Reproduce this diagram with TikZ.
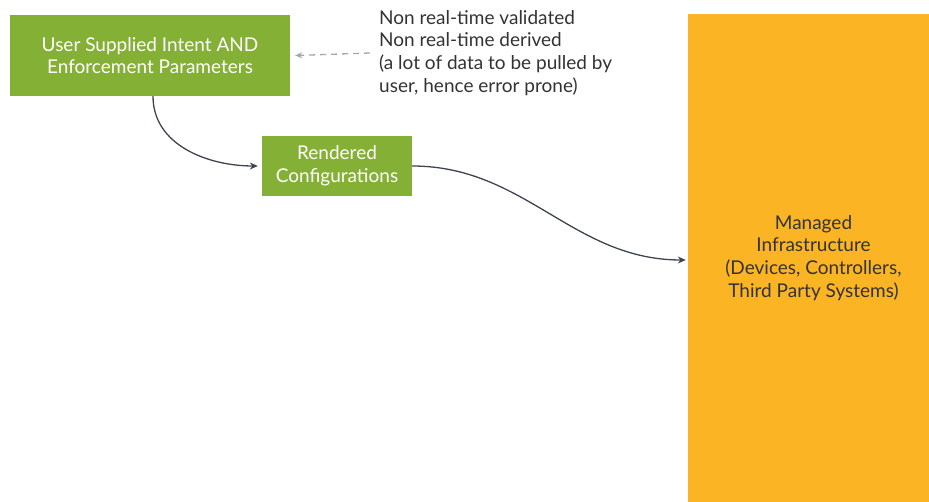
\documentclass[tikz,border=0pt]{standalone}
\usepackage{fontspec}
\setmainfont{Lato}
\usepackage{tikz}
\usetikzlibrary{positioning,arrows.meta}
\definecolor{leaf}{HTML}{84B135}
\definecolor{amber}{HTML}{FBB424}
\definecolor{slate}{HTML}{3D4450}
\definecolor{ink}{HTML}{333333}

\begin{document}
\begin{tikzpicture}[x=1pt, y=-1pt,
  greenbox/.style = {fill = leaf, text = white, shape = rectangle, align = center, inner sep = 0pt},
  flow/.style = {draw = slate, line width = 1.3pt, -{Stealth[length=8pt, width=7pt]}},
  every node/.style = {font = \fontsize{19}{22.8}\selectfont}]
\useasboundingbox (0,0) rectangle (929,502);
\node[greenbox, minimum width = 280pt, minimum height = 81pt] (intent) at (150,55.5) {User Supplied Intent AND\\Enforcement Parameters};
\node[greenbox, minimum width = 150pt, minimum height = 60pt] (rendered) at (337,166) {Rendered\\Configurations};
\node[fill = amber, text = ink, align = center, inner sep = 0pt, minimum width = 251pt, minimum height = 488pt] (infra) at (813.5,258) {Managed\\Infrastructure\\(Devices, Controllers,\\Third Party Systems)};
\node[text = ink, align = left, anchor = west, inner sep = 0pt] (note) at (379,53) {Non real-time validated\\Non real-time derived\\(a lot of data to be pulled by\\user, hence error prone)};
\begin{scope}[nodes = {draw = none}]
\draw[dash pattern = on 6pt off 5pt, draw = gray!70, line width = 1.3pt, -{Stealth[length=7pt, width=6pt]}] ([xshift=-9pt]note.west) -- ([xshift=5pt]intent.east);
\draw[flow] ([xshift=3pt]intent.south) to[out=-90, in=180] ([xshift=-4pt]rendered.west);
\draw[flow] (rendered.east) to[out=0, in=180] ([xshift=-2pt, yshift=-2pt]infra.west);
\end{scope}
\end{tikzpicture}
\end{document}
